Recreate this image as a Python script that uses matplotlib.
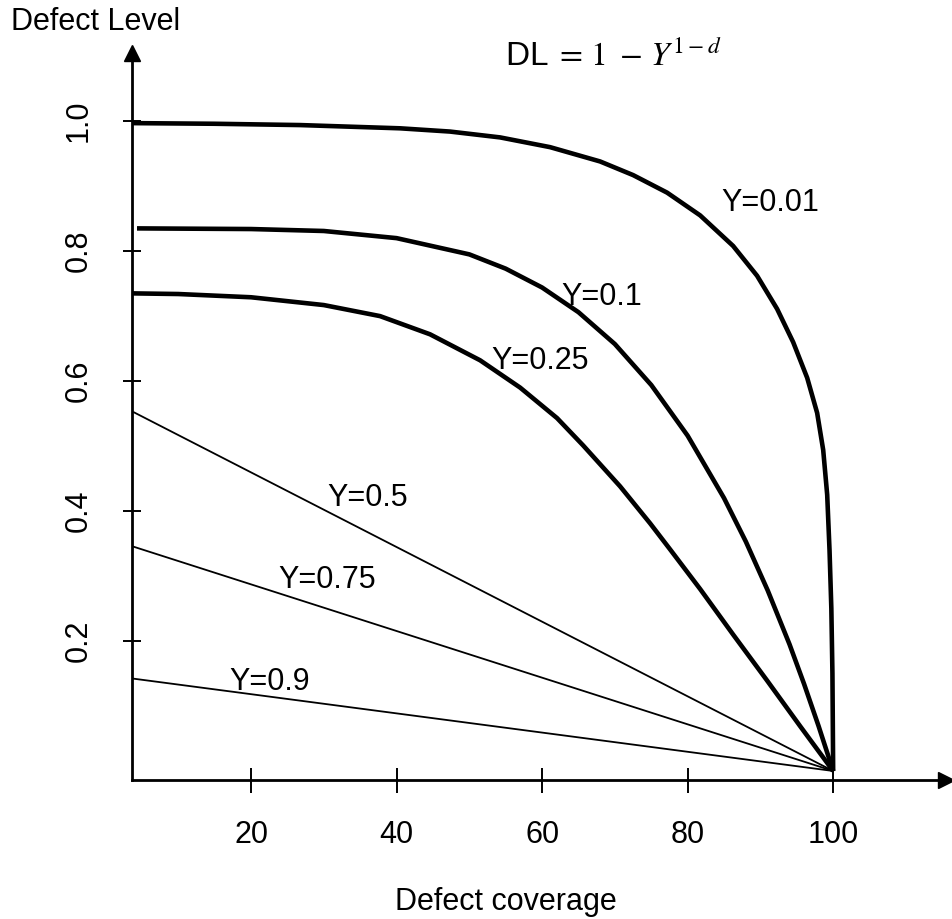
import matplotlib

matplotlib.use("Agg")
import matplotlib.pyplot as plt

plt.rcParams["font.family"] = ["Liberation Sans", "DejaVu Sans"]
plt.rcParams["mathtext.fontset"] = "stix"

# values (defect coverage in %, defect level)
cov_y001 = [3.64, 15.0, 26.73, 40.48, 47.35, 54.23, 61.10, 67.97, 72.51, 77.18, 81.72, 86.25,
            89.55, 92.30, 94.50, 96.43, 97.80, 98.63, 99.18, 99.50, 99.75, 99.90, 100.0]
dl_y001 = [0.997, 0.996, 0.994, 0.989, 0.984, 0.975, 0.960, 0.938, 0.917, 0.890, 0.855, 0.808,
           0.762, 0.711, 0.660, 0.605, 0.551, 0.494, 0.425, 0.340, 0.250, 0.150, 0.0]

cov_y01 = [4.33, 20.0, 30.0, 40.0, 50.0, 55.0, 60.0, 65.0, 70.0, 75.0, 80.0, 85.0, 88.0,
           91.0, 94.0, 96.0, 98.0, 100.0]
dl_y01 = [0.835, 0.834, 0.831, 0.820, 0.795, 0.773, 0.744, 0.706, 0.657, 0.594, 0.516, 0.420,
          0.353, 0.278, 0.195, 0.134, 0.069, 0.0]

cov_y025 = [3.64, 10.0, 20.0, 30.0, 37.73, 44.60, 51.48, 56.98, 62.06, 65.64, 70.72, 74.85,
            77.59, 81.72, 86.25, 90.93, 95.46, 100.0]
dl_y025 = [0.735, 0.734, 0.729, 0.717, 0.700, 0.672, 0.632, 0.590, 0.543, 0.501, 0.438, 0.381,
           0.341, 0.280, 0.210, 0.139, 0.069, 0.0]

cov_lines = [3.9, 100.0]
dl_y05 = [0.552, 0.0]
dl_y075 = [0.345, 0.0]
dl_y09 = [0.142, 0.0]

curve_labels = ["Y=0.01", "Y=0.1", "Y=0.25", "Y=0.5", "Y=0.75", "Y=0.9"]
label_x = [91.3, 68.2, 59.7, 36.0, 30.4, 22.6]
label_y = [0.874, 0.729, 0.631, 0.420, 0.294, 0.137]

x_ticks = [20, 40, 60, 80, 100]
y_ticks = [0.2, 0.4, 0.6, 0.8, 1.0]


def plot_defect_level():
    fig = plt.figure(figsize=(9.53, 9.19), dpi=100)
    ax = fig.add_axes([0.1385, 0.1513, 0.8541, 0.7911])

    thick = dict(color="black", lw=3.3, solid_joinstyle="round", solid_capstyle="butt")
    ax.plot(cov_y001, dl_y001, **thick)
    ax.plot(cov_y01, dl_y01, **thick)
    ax.plot(cov_y025, dl_y025, **thick)
    ax.plot(cov_lines, dl_y05, color="black", lw=1.3)
    ax.plot(cov_lines, dl_y075, color="black", lw=1.3)
    ax.plot(cov_lines, dl_y09, color="black", lw=1.3)

    for text, x, y in zip(curve_labels, label_x, label_y):
        ax.text(x, y, text, fontsize=22, ha="center", va="center")

    ax.set_xlim(3.64, 115.5)
    ax.set_ylim(-0.0138, 1.105)

    for side in ["top", "right"]:
        ax.spines[side].set_visible(False)
    for side in ["left", "bottom"]:
        ax.spines[side].set_linewidth(2)

    # arrow heads at the ends of the axes
    ax.plot(1, 0, ">", color="black", ms=11, transform=ax.transAxes, clip_on=False)
    ax.plot(0, 1, "^", color="black", ms=11, transform=ax.transAxes, clip_on=False)

    ax.set_xticks(x_ticks)
    ax.set_xticklabels([str(t) for t in x_ticks])
    ax.set_yticks(y_ticks)
    ax.set_yticklabels([f"{t:.1f}" for t in y_ticks], rotation=90, va="center")
    ax.tick_params(axis="x", direction="inout", length=18, width=1.4, pad=20, labelsize=22)
    ax.tick_params(axis="y", direction="inout", length=13, width=1.4, pad=21, labelsize=22)

    fig.text(0.012, 0.976, "Defect Level", fontsize=22, ha="left", va="center")
    fig.text(0.531, 0.018, "Defect coverage", fontsize=22, ha="center", va="center")
    fig.text(0.53, 0.938, r"DL$\;=\,1\;-\,Y^{1-d}$", fontsize=24, ha="left", va="center")

    fig.savefig("out.png", dpi=100)


if __name__ == "__main__":
    plot_defect_level()
